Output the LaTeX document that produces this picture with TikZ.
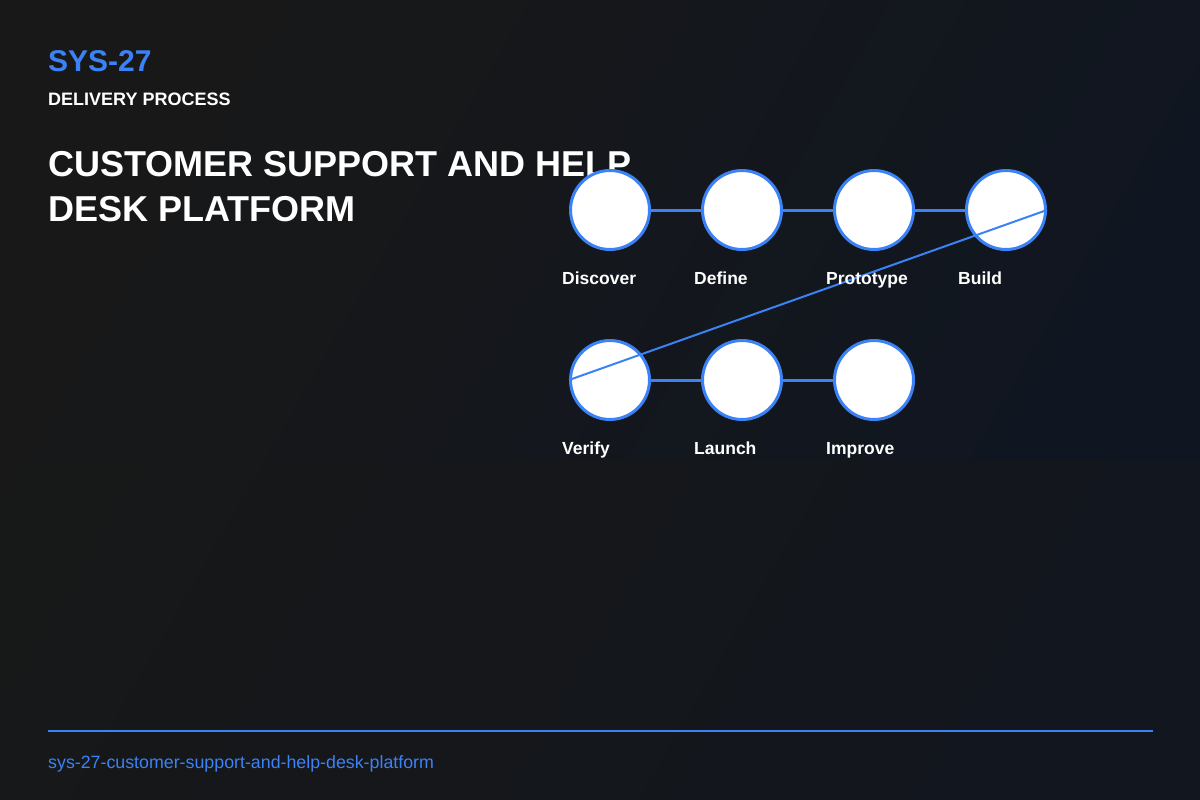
\documentclass[tikz,border=0pt]{standalone}
\usepackage{fontspec}
\setmainfont{Liberation Sans}
\usetikzlibrary{positioning}

\definecolor{bgl}{HTML}{181818}
\definecolor{bgr}{HTML}{0F1622}
\definecolor{accent}{HTML}{3B82F6}

\newcommand{\lbl}{\fontsize{17.5}{20}\selectfont\bfseries}

\tikzset{
  stage/.style={circle,fill=white,draw=accent,line width=3pt,minimum size=79pt,inner sep=0pt},
  stagelabel/.style={anchor=base west,inner sep=0pt,text=white,font=\lbl},
  link/.style={accent,line width=3pt},
}

\begin{document}
\begin{tikzpicture}[x=1pt,y=-1pt]
   % background
   \useasboundingbox (0,0) rectangle (1200,800);
   \shade[left color=bgl,right color=bgr,shading angle=60] (0,0) rectangle (1200,800);
   \fill[bgl,opacity=0.4] (0,460) rectangle (1200,800);

   % heading
   \node[anchor=base west,inner sep=0pt,text=accent,font=\fontsize{30}{36}\selectfont\bfseries] (code) at (48,72) {SYS-27};
   \node[anchor=base west,inner sep=0pt,text=white,font=\fontsize{18}{22}\selectfont\bfseries] (kind) at (48,105) {DELIVERY PROCESS};
   \node[anchor=base west,inner sep=0pt,text=white,font=\fontsize{36}{45}\selectfont\bfseries] (title1) at (48,176) {CUSTOMER SUPPORT AND HELP};
   \node[anchor=base west,inner sep=0pt,text=white,font=\fontsize{36}{45}\selectfont\bfseries] (title2) at (48,221) {DESK PLATFORM};

   % stages
   \node[stage] (discover)  at ( 610,210) {};
   \node[stage] (define)    at ( 742,210) {};
   \node[stage] (prototype) at ( 874,210) {};
   \node[stage] (build)     at (1006,210) {};
   \node[stage] (verify)    at ( 610,380) {};
   \node[stage] (launch)    at ( 742,380) {};
   \node[stage] (improve)   at ( 874,380) {};

   \draw[link] (discover)  -- (define);
   \draw[link] (define)    -- (prototype);
   \draw[link] (prototype) -- (build);
   \draw[link] (verify)    -- (launch);
   \draw[link] (launch)    -- (improve);
   \draw[accent,line width=2pt] (build.east) -- (verify.west);

   \node[stagelabel] (ldiscover)  at ( 562,284) {Discover};
   \node[stagelabel] (ldefine)    at ( 694,284) {Define};
   \node[stagelabel] (lprototype) at ( 826,284) {Prototype};
   \node[stagelabel] (lbuild)     at ( 958,284) {Build};
   \node[stagelabel] (lverify)    at ( 562,454) {Verify};
   \node[stagelabel] (llaunch)    at ( 694,454) {Launch};
   \node[stagelabel] (limprove)   at ( 826,454) {Improve};

   % footer
   \coordinate (rulea) at (48,731);
   \coordinate (ruleb) at (1153,731);
   \draw[accent,line width=2pt] (rulea) -- (ruleb);
   \node[anchor=base west,inner sep=0pt,text=accent,font=\fontsize{17.8}{21}\selectfont] (slug) at (48,768) {sys-27-customer-support-and-help-desk-platform};
\end{tikzpicture}
\end{document}
